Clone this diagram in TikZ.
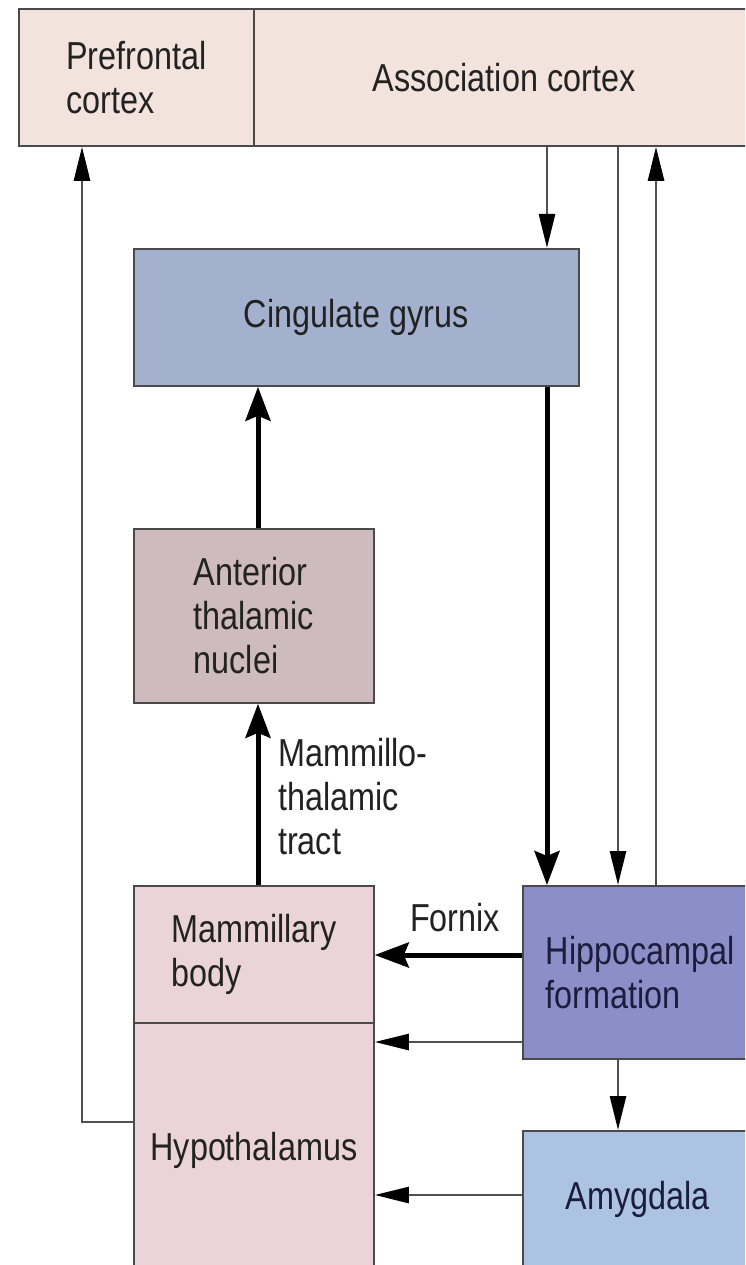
\documentclass[tikz,border=0pt]{standalone}
\usepackage{fontspec}
\setmainfont{Liberation Sans}[FakeStretch=0.83]
\usetikzlibrary{arrows.meta,calc}

\definecolor{boxline}{HTML}{4A4A4A}
\definecolor{cortexfill}{HTML}{F2E4DC}
\definecolor{cingfill}{HTML}{A3B1CF}
\definecolor{thalfill}{HTML}{CDBBBD}
\definecolor{hypfill}{HTML}{EAD4DA}
\definecolor{hippofill}{HTML}{8C8EC8}
\definecolor{amygfill}{HTML}{ACC4E2}
\definecolor{inkdark}{HTML}{222222}
\definecolor{inknavy}{HTML}{1C1C3C}
\definecolor{linegray}{HTML}{505050}

\begin{document}
\begin{tikzpicture}[x=1pt,y=-1pt,
  box/.style={draw=boxline, line width=1.8pt, inner sep=0pt, anchor=north west,
    font=\fontsize{39}{44}\selectfont, align=left, text=inkdark},
  lbl/.style={inner sep=0pt, font=\fontsize{39}{44}\selectfont, align=left, text=inkdark},
  thinarrow/.style={draw=linegray, line width=2.6pt,
    -{Triangle[length=34pt,width=16pt,color=black]}},
  thickarrow/.style={draw=black, line width=5pt,
    -{Stealth[length=34pt,width=25pt,inset=5pt]}},
  plainline/.style={draw=linegray, line width=2.6pt}]
\useasboundingbox (0,0) rectangle (745,1265);
\fill[white] (0,0) rectangle (745,1265);
\clip (0,0) rectangle (745,1265);

% cortex bar across the top
\node[box, fill=cortexfill, minimum width=235pt, minimum height=137pt] (pre) at (18,8)
  {Prefrontal\\cortex};
\node[box, fill=cortexfill, minimum width=540pt, minimum height=137pt, align=center] (assoc) at (253,8)
  {\hspace*{-40pt}Association cortex};

% limbic structures
\node[box, fill=cingfill, minimum width=445pt, minimum height=137pt, align=center] (cing) at (133,248)
  {Cingulate gyrus};
\node[box, fill=thalfill, minimum width=240pt, minimum height=174pt] (thal) at (133,528)
  {Anterior\\thalamic\\nuclei};
\node[box, fill=hypfill, minimum width=240pt, minimum height=137pt] (mam) at (133,885)
  {Mammillary\\body};
\node[box, fill=hypfill, minimum width=240pt, minimum height=256pt, align=center] (hyp) at (133,1022)
  {Hypothalamus};
\node[box, fill=hippofill, minimum width=260pt, minimum height=173pt, text width=214pt,
  inner xsep=23pt, text=inknavy] (hippo) at (522,885)
  {Hippocampal\\formation};
\node[box, fill=amygfill, minimum width=260pt, minimum height=138pt, align=center,
  text=inknavy] (amyg) at (522,1130)
  {\hspace*{-30pt}Amygdala};

% connector columns
\coordinate (xpre) at (82,0);
\coordinate (xthal) at (258,0);
\coordinate (xcing) at (547,0);
\coordinate (xdown) at (618,0);
\coordinate (xup) at (656,0);

% connectors
\draw[thinarrow] ([yshift=-100pt]hyp.north west) -| (pre.south -| xpre);
\draw[thinarrow] (assoc.south -| xcing) -- (cing.north -| xcing);
\draw[thinarrow] (assoc.south -| xdown) -- (hippo.north -| xdown);
\draw[thinarrow] (hippo.north -| xup) -- (assoc.south -| xup);
\draw[thickarrow] (cing.south -| xcing) -- (hippo.north -| xcing);
\draw[thickarrow] (thal.north -| xthal) -- (cing.south -| xthal);
\draw[thickarrow] (mam.north -| xthal) -- (thal.south -| xthal);
\draw[thickarrow] ([yshift=-70pt]hippo.north west) -- ([yshift=-70pt]mam.north east);
\draw[thinarrow] ([yshift=-157pt]hippo.north west) -- ([yshift=-157pt]mam.north east);
\draw[thinarrow] (hippo.south -| xdown) -- (amyg.north -| xdown);
\draw[thinarrow] ([yshift=-65pt]amyg.north west) -- ([yshift=-65pt]amyg.north west -| hyp.east);

% tract labels
\node[lbl, anchor=north west] (mtt) at (278,738) {Mammillo-\\thalamic\\tract};
\node[lbl] (fornix) at (455,918) {Fornix};
\end{tikzpicture}
\end{document}
